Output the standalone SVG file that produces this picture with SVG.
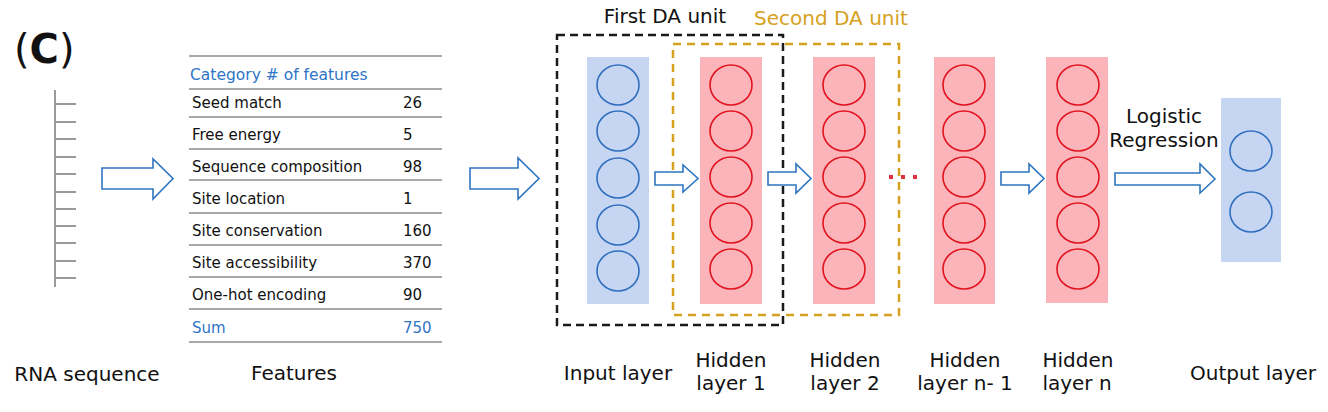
<svg xmlns="http://www.w3.org/2000/svg" width="1328" height="412" viewBox="0 0 1328 412">
<style>
text{font-family:"DejaVu Sans",Verdana,sans-serif;fill:#111}
.lbl{font-size:20px;text-anchor:middle}
.tb{font-size:15px}
.blue{fill:#2f74c6}
.gold{fill:#d6a11e}
.rule{stroke:#8c8c8c;stroke-width:1.6}
.tick{stroke:#9a9a9a;stroke-width:2}
.arr{fill:#fff;stroke:#2e75c0;stroke-width:1.6;stroke-linejoin:miter}
.inrect{fill:#c6d5f2}
.hrect{fill:#fbb4b9}
.bc{fill:none;stroke:#2f6fbe;stroke-width:1.6}
.rc{fill:none;stroke:#e0141f;stroke-width:1.6}
.dot{fill:#e0303e}
</style>
<rect width="1328" height="412" fill="#fff"/>

<text x="14" y="63" style="font-size:40px"><tspan>(</tspan><tspan font-weight="bold">C</tspan><tspan>)</tspan></text>

<g id="rna">
<line class="tick" x1="55" y1="90" x2="55" y2="287"/>
<line class="tick" x1="55" y1="104" x2="76" y2="104"/>
<line class="tick" x1="55" y1="122" x2="76" y2="122"/>
<line class="tick" x1="55" y1="139" x2="76" y2="139"/>
<line class="tick" x1="55" y1="157" x2="76" y2="157"/>
<line class="tick" x1="55" y1="174" x2="76" y2="174"/>
<line class="tick" x1="55" y1="192" x2="76" y2="192"/>
<line class="tick" x1="55" y1="209" x2="76" y2="209"/>
<line class="tick" x1="55" y1="226" x2="76" y2="226"/>
<line class="tick" x1="55" y1="243" x2="76" y2="243"/>
<line class="tick" x1="55" y1="261" x2="76" y2="261"/>
<line class="tick" x1="55" y1="278" x2="76" y2="278"/>
<text class="lbl" x="87" y="381">RNA sequence</text>
</g>

<g id="features">
<line class="rule" x1="189" y1="56" x2="442" y2="56"/>
<line class="rule" x1="189" y1="89" x2="442" y2="89"/>
<line class="rule" x1="189" y1="117" x2="442" y2="117"/>
<line class="rule" x1="189" y1="149" x2="442" y2="149"/>
<line class="rule" x1="189" y1="180" x2="442" y2="180"/>
<line class="rule" x1="189" y1="213" x2="442" y2="213"/>
<line class="rule" x1="189" y1="245" x2="442" y2="245"/>
<line class="rule" x1="189" y1="277" x2="442" y2="277"/>
<line class="rule" x1="189" y1="309" x2="442" y2="309"/>
<line class="rule" x1="189" y1="342" x2="442" y2="342"/>
<text class="tb blue" x="190" y="80" style="font-size:15.5px">Category # of features</text>
<text class="tb" x="192" y="108">Seed match</text><text class="tb" x="403" y="108">26</text>
<text class="tb" x="192" y="140">Free energy</text><text class="tb" x="403" y="140">5</text>
<text class="tb" x="192" y="172">Sequence composition</text><text class="tb" x="403" y="172">98</text>
<text class="tb" x="192" y="204">Site location</text><text class="tb" x="403" y="204">1</text>
<text class="tb" x="192" y="236">Site conservation</text><text class="tb" x="403" y="236">160</text>
<text class="tb" x="192" y="268">Site accessibility</text><text class="tb" x="403" y="268">370</text>
<text class="tb" x="192" y="300">One-hot encoding</text><text class="tb" x="403" y="300">90</text>
<text class="tb blue" x="192" y="333">Sum</text><text class="tb blue" x="403" y="333">750</text>
<text class="lbl" x="294" y="380">Features</text>
</g>

<g id="input-layer">
<rect class="inrect" x="587" y="57" width="62" height="247"/>
<ellipse class="bc" cx="618" cy="85" rx="21" ry="20"/>
<ellipse class="bc" cx="618" cy="131" rx="21" ry="20"/>
<ellipse class="bc" cx="618" cy="178" rx="21" ry="20"/>
<ellipse class="bc" cx="618" cy="225" rx="21" ry="20"/>
<ellipse class="bc" cx="618" cy="271" rx="21" ry="20"/>
<text class="lbl" x="618" y="380">Input layer</text>
</g>

<g id="hidden-1">
<rect class="hrect" x="700" y="57" width="62" height="247"/>
<ellipse class="rc" cx="731" cy="85" rx="21" ry="20"/>
<ellipse class="rc" cx="731" cy="131" rx="21" ry="20"/>
<ellipse class="rc" cx="731" cy="177" rx="21" ry="20"/>
<ellipse class="rc" cx="731" cy="223" rx="21" ry="20"/>
<ellipse class="rc" cx="731" cy="269" rx="21" ry="20"/>
<text class="lbl" x="731" y="367">Hidden</text>
<text class="lbl" x="731" y="390">layer 1</text>
</g>

<g id="hidden-2">
<rect class="hrect" x="813" y="57" width="62" height="247"/>
<ellipse class="rc" cx="844" cy="85" rx="21" ry="20"/>
<ellipse class="rc" cx="844" cy="131" rx="21" ry="20"/>
<ellipse class="rc" cx="844" cy="177" rx="21" ry="20"/>
<ellipse class="rc" cx="844" cy="223" rx="21" ry="20"/>
<ellipse class="rc" cx="844" cy="269" rx="21" ry="20"/>
<text class="lbl" x="845" y="367">Hidden</text>
<text class="lbl" x="845" y="390">layer 2</text>
</g>

<g id="hidden-n-1">
<rect class="hrect" x="934" y="57" width="61" height="247"/>
<ellipse class="rc" cx="964" cy="85" rx="21" ry="20"/>
<ellipse class="rc" cx="964" cy="131" rx="21" ry="20"/>
<ellipse class="rc" cx="964" cy="177" rx="21" ry="20"/>
<ellipse class="rc" cx="964" cy="223" rx="21" ry="20"/>
<ellipse class="rc" cx="964" cy="269" rx="21" ry="20"/>
<text class="lbl" x="965" y="367">Hidden</text>
<text class="lbl" x="965" y="390">layer n- 1</text>
</g>

<g id="hidden-n">
<rect class="hrect" x="1046" y="57" width="62" height="246"/>
<ellipse class="rc" cx="1078" cy="85" rx="21" ry="20"/>
<ellipse class="rc" cx="1078" cy="131" rx="21" ry="20"/>
<ellipse class="rc" cx="1078" cy="177" rx="21" ry="20"/>
<ellipse class="rc" cx="1078" cy="223" rx="21" ry="20"/>
<ellipse class="rc" cx="1078" cy="269" rx="21" ry="20"/>
<text class="lbl" x="1078" y="367">Hidden</text>
<text class="lbl" x="1077" y="390">layer n</text>
</g>

<g id="output-layer">
<rect class="inrect" x="1221" y="98" width="60" height="164"/>
<ellipse class="bc" cx="1251" cy="151" rx="21" ry="20"/>
<ellipse class="bc" cx="1251" cy="212" rx="21" ry="20"/>
<text class="lbl" x="1253" y="380">Output layer</text>
</g>

<g id="da-units">
<rect x="557" y="35" width="226" height="290" fill="none" stroke="#1a1a1a" stroke-width="2.5" stroke-dasharray="8,5"/>
<rect x="673" y="44" width="226" height="271" fill="none" stroke="#d6a11e" stroke-width="2.5" stroke-dasharray="8,6"/>
<text class="lbl" x="665" y="23">First DA unit</text>
<text class="lbl gold" x="831" y="25">Second DA unit</text>
</g>

<g id="connectors">
<polygon class="arr" points="102,168 153,168 153,159 173,178.5 153,199 153,189 102,189"/>
<polygon class="arr" points="470,168 518,168 518,158 539,178.5 518,199 518,189 470,189"/>
<polygon class="arr" points="655,172 683,172 683,165 698,178.5 683,192 683,185 655,185"/>
<polygon class="arr" points="768,172 796,172 796,164 811,178.5 796,193 796,185 768,185"/>
<polygon class="arr" points="1001,172 1029,172 1029,164 1044,178.5 1029,193 1029,185 1001,185"/>
<polygon class="arr" points="1115,173 1200,173 1200,164 1215,179 1200,193 1200,185 1115,185"/>
<rect class="dot" x="889" y="175" width="4" height="4"/>
<rect class="dot" x="901" y="175" width="4" height="4"/>
<rect class="dot" x="913" y="175" width="4" height="4"/>
<text class="lbl" x="1164" y="123">Logistic</text>
<text class="lbl" x="1164" y="147">Regression</text>
</g>
</svg>
